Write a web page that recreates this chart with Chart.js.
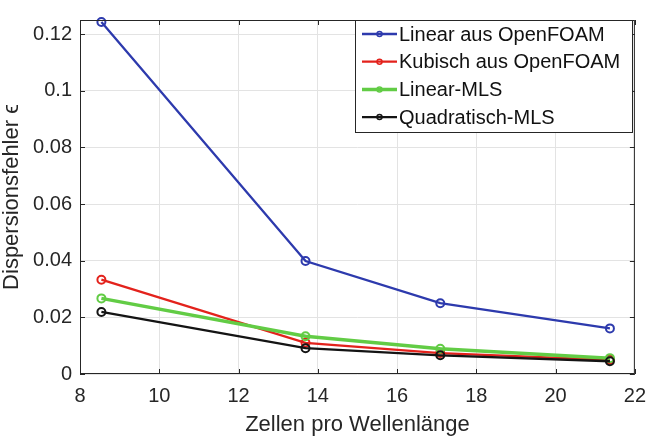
<!DOCTYPE html>
<html lang="de">
<head>
    <meta charset="UTF-8">
    <title>Dispersionsfehler</title>
    <style>
        body {
            margin: 0;
            background-color: #fff;
        }
        canvas {
            display: block;
        }
    </style>
    <script src="https://cdn.jsdelivr.net/npm/chart.js"></script>
</head>
<body>
    <canvas id="chart" width="656" height="437"></canvas>

    <script>
        // Data
        const cellsPerWave = [8.54, 13.69, 17.09, 21.37];
        const linearOpenFoam = [0.1243, 0.0399, 0.0250, 0.0161];
        const cubicOpenFoam = [0.0333, 0.0110, 0.0074, 0.0050];
        const linearMls = [0.0267, 0.0133, 0.0089, 0.0056];
        const quadraticMls = [0.0219, 0.0091, 0.0066, 0.0045];

        const seriesNames = ['Linear aus OpenFOAM', 'Kubisch aus OpenFOAM', 'Linear-MLS', 'Quadratisch-MLS'];

        const xTicks = [8, 10, 12, 14, 16, 18, 20, 22];
        const yTicks = [0, 0.02, 0.04, 0.06, 0.08, 0.1, 0.12];
        const yTickLabels = ['0', '0.02', '0.04', '0.06', '0.08', '0.1', '0.12'];

        const FONT = "'Liberation Sans', Arial, sans-serif";

        const toPoints = ys => ys.map((y, i) => ({ x: cellsPerWave[i], y: y }));

        const makeSeries = (label, ys, color, width, order) => ({
            label: label,
            data: toPoints(ys),
            borderColor: color,
            backgroundColor: color,
            borderWidth: width,
            pointRadius: 4,
            pointBorderWidth: 2,
            pointBackgroundColor: 'rgba(0,0,0,0)',
            pointBorderColor: color,
            showLine: true,
            tension: 0,
            clip: false,
            order: order
        });

        // MATLAB-style box with inward ticks
        const framePlugin = {
            id: 'frame',
            afterDraw(chart) {
                const { ctx, chartArea: a, scales } = chart;
                ctx.save();
                ctx.strokeStyle = '#262626';
                ctx.lineWidth = 1;
                ctx.strokeRect(a.left + 0.5, a.top + 0.5, a.right - a.left - 1, a.bottom - a.top - 1);
                ctx.beginPath();
                xTicks.forEach(v => {
                    const px = Math.round(scales.x.getPixelForValue(v)) + 0.5;
                    ctx.moveTo(px, a.bottom); ctx.lineTo(px, a.bottom - 5);
                    ctx.moveTo(px, a.top); ctx.lineTo(px, a.top + 5);
                });
                yTicks.forEach(v => {
                    const py = Math.round(scales.y.getPixelForValue(v)) + 0.5;
                    ctx.moveTo(a.left, py); ctx.lineTo(a.left + 5, py);
                    ctx.moveTo(a.right, py); ctx.lineTo(a.right - 5, py);
                });
                ctx.stroke();
                ctx.restore();
            }
        };

        // legend box inside the plot, top right
        const legendPlugin = {
            id: 'boxLegend',
            afterDraw(chart) {
                const ctx = chart.ctx;
                const box = { x: 355, y: 20, w: 277, h: 112 };
                ctx.save();
                ctx.fillStyle = '#fff';
                ctx.fillRect(box.x, box.y, box.w, box.h);
                ctx.strokeStyle = '#262626';
                ctx.lineWidth = 1;
                ctx.strokeRect(box.x + 0.5, box.y + 0.5, box.w, box.h);
                ctx.font = '20px ' + FONT;
                ctx.textBaseline = 'middle';
                ctx.textAlign = 'left';
                chart.data.datasets.forEach((ds, i) => {
                    const yy = 34 + i * 27.7;
                    ctx.strokeStyle = ds.borderColor;
                    ctx.lineWidth = ds.borderWidth;
                    ctx.beginPath();
                    ctx.moveTo(362, yy); ctx.lineTo(397, yy);
                    ctx.stroke();
                    ctx.lineWidth = 1.5;
                    ctx.beginPath();
                    ctx.arc(379.5, yy, 2.5, 0, Math.PI * 2);
                    ctx.stroke();
                    ctx.fillStyle = '#111';
                    ctx.fillText(ds.label, 399, yy + 1);
                });
                ctx.restore();
            }
        };

        new Chart(document.getElementById('chart'), {
            type: 'scatter',
            data: {
                datasets: [
                    makeSeries(seriesNames[0], linearOpenFoam, '#2d3aad', 2.3, 4),
                    makeSeries(seriesNames[1], cubicOpenFoam, '#e3221c', 2.3, 3),
                    makeSeries(seriesNames[2], linearMls, '#62cc45', 3.5, 2),
                    makeSeries(seriesNames[3], quadraticMls, '#141414', 2.3, 1)
                ]
            },
            options: {
                responsive: false,
                animation: false,
                layout: { padding: { top: 8, right: 14, left: 0, bottom: 0 } },
                plugins: {
                    legend: { display: false },
                    tooltip: { enabled: false }
                },
                scales: {
                    x: {
                        type: 'linear',
                        min: 8,
                        max: 22,
                        afterBuildTicks: s => { s.ticks = xTicks.map(v => ({ value: v })); },
                        afterFit: s => { s.height = 63; },
                        grid: { color: '#e3e3e3', drawTicks: false },
                        border: { display: false },
                        ticks: {
                            padding: 10,
                            color: '#262626',
                            font: { family: FONT, size: 20 },
                            maxRotation: 0,
                            callback: (v, i) => String(xTicks[i])
                        },
                        title: {
                            display: true,
                            text: 'Zellen pro Wellenlänge',
                            color: '#262626',
                            font: { family: FONT, size: 22, lineHeight: 1.1 },
                            padding: { top: 0, bottom: 0 }
                        }
                    },
                    y: {
                        type: 'linear',
                        min: 0,
                        max: 0.125,
                        afterBuildTicks: s => { s.ticks = yTicks.map(v => ({ value: v })); },
                        afterFit: s => { s.width = 80; },
                        grid: { color: '#e3e3e3', drawTicks: false },
                        border: { display: false },
                        ticks: {
                            padding: 8,
                            color: '#262626',
                            font: { family: FONT, size: 20 },
                            callback: (v, i) => yTickLabels[i]
                        },
                        title: {
                            display: true,
                            text: 'Dispersionsfehler ϵ',
                            color: '#262626',
                            font: { family: FONT, size: 22, lineHeight: 1.1 },
                            padding: { top: 0, bottom: 0 }
                        }
                    }
                }
            },
            plugins: [framePlugin, legendPlugin]
        });
    </script>
</body>
</html>
